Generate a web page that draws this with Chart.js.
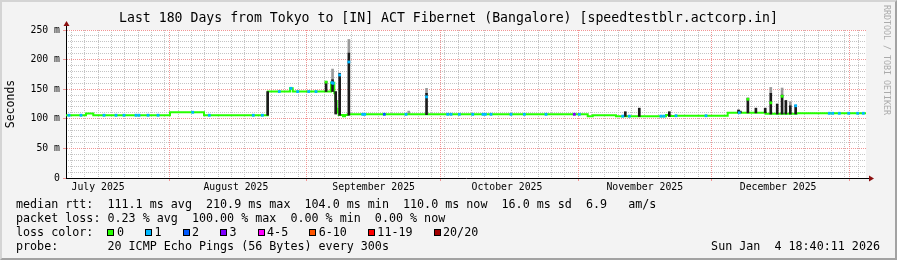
<!DOCTYPE html>
<html>
<head>
<meta charset="utf-8">
<title>Smokeping - Tokyo to Bangalore</title>
<script src="https://cdn.jsdelivr.net/npm/chart.js@4.4.1/dist/chart.umd.min.js"></script>
<style>
    body { margin: 0; background: #f3f3f3; }
    #wrap {
        position: relative; width: 897px; height: 260px; overflow: hidden;
        background: #f3f3f3; color: #000;
        font-family: 'DejaVu Sans Mono', monospace;
    }
    #chart { position: absolute; left: 0; top: 0; }
    .legend-line {
        position: absolute; left: 16px; font-size: 11.7px; line-height: 14px;
        white-space: pre;
    }
    .sq {
        display: inline-block; width: 7px; height: 7px; box-sizing: border-box;
        border: 1px solid #000; margin-right: 2.4px;
    }
    #stamp { position: absolute; right: 17px; top: 239.3px; font-size: 11.7px; line-height: 14px; white-space: pre; }
    #watermark {
        position: absolute; left: 882px; top: 5px; font-size: 8.3px; color: #ababab;
        writing-mode: vertical-rl; white-space: pre;
    }
    #frame {
        position: absolute; left: 0; top: 0; width: 897px; height: 260px; box-sizing: border-box;
        border-top: 2px solid #d4d4d4; border-left: 2px solid #d4d4d4;
        border-right: 2px solid #a2a2a2; border-bottom: 2px solid #a2a2a2;
        pointer-events: none;
    }
</style>
</head>
<body>
<div id="wrap">
    <canvas id="chart" width="897" height="260"></canvas>
    <div class="legend-line" style="top:197.3px">median rtt:  111.1 ms avg  210.9 ms max  104.0 ms min  110.0 ms now  16.0 ms sd  6.9   am/s</div>
    <div class="legend-line" style="top:211.3px">packet loss: 0.23 % avg  100.00 % max  0.00 % min  0.00 % now</div>
    <div class="legend-line" id="loss-legend" style="top:225.3px"></div>
    <div class="legend-line" style="top:239.3px">probe:       20 ICMP Echo Pings (56 Bytes) every 300s</div>
    <div id="stamp">Sun Jan  4 18:40:11 2026</div>
    <div id="watermark">RRDTOOL / TOBI OETIKER</div>
    <div id="frame"></div>
</div>
<script>
// Time axis is in days since 1 July 2025 00:00
const rangeStart = 7.778;   // Jul 8 18:40
const rangeEnd = 187.778;   // Jan 4 18:40
const monthStartDays = [0, 31, 62, 92, 123, 153, 184];
const monthLabels = ['July 2025', 'August 2025', 'September 2025', 'October 2025', 'November 2025', 'December 2025'];

// median rtt in ms, as steps: each value holds from its day until the next one
const rttDay = [7.78, 12.28, 13.92, 31.18, 38.83, 53.2, 58.18, 58.79, 67.40, 68.15, 68.41, 68.68, 68.91, 69.14,
    70.10, 70.55, 71.16, 125.16, 126.29, 131.53, 142.78, 143.52, 145.03, 156.66, 165.28, 172.17, 187.78];
const rttMs = [106, 109, 106, 111, 106, 146, 151.5, 146, 161, 143, 130, 117, 110.5, 106.5,
    104.5, 106.5, 107.6, 104.2, 106, 104.5, 106.4, 104.7, 105.2, 110.3, 108.6, 109.3, 109.3];

// dense smoke (dark) around spikes and jumps
const smokeDay = [53.15, 66.3, 67.75, 68.45, 69.35, 71.42, 88.9, 133.62, 136.77, 143.52, 159.1, 159.5,
    161.2, 163.0, 165.1, 166.35, 167.8, 168.9, 169.75, 170.75, 171.95];
const smokeLo = [106, 146, 146, 108, 106, 106, 107, 104, 104, 104, 110, 110,
    110, 110, 110, 108, 108, 108, 108, 108, 108];
const smokeHi = [146, 163, 166, 146, 177, 211, 143, 112, 118, 112, 115, 113,
    135, 118, 118, 143, 125, 140, 131, 122, 123];

// light smoke above the dense part
const lightDay = [67.75, 71.42, 84.9, 88.9, 166.35, 168.9, 170.75];
const lightLo = [166, 211, 107, 143, 143, 140, 122];
const lightHi = [184, 234, 113, 151.5, 153, 152, 129];

// median samples sitting on top of spikes
const spikeDay = [66.3, 67.6, 67.9, 69.35, 71.42, 88.9, 161.2, 166.35, 168.9, 171.95];
const spikeMs = [162, 161, 160, 174, 196, 137, 133, 127, 138, 122];
const spikeLoss = [0, 1, 1, 1, 1, 1, 0, 0, 0, 1];

// days where the median carried some packet loss
const loss1Days = [8.45, 11.15, 16.33, 19.03, 20.83, 23.53, 24.2, 26.23, 28.48, 36.29, 40.02, 49.92, 51.95,
    55.77, 58.4, 59.91, 62.39, 64.03, 74.54, 74.99, 84.28, 93.66, 94.41, 96.27, 99.29, 101.6, 102.12,
    103.4, 107.9, 110.9, 115.78, 123.27, 133.04, 134.52, 141.65, 142.33, 145.03, 151.78, 159.27,
    179.52, 180.29, 181.77, 183.89, 185.91, 187.17];
const loss2Days = [79.4];
const loss3Days = [122.15];

const lossLabels = ['0', '1', '2', '3', '4-5', '6-10', '11-19', '20/20'];
const lossColors = ['#26ff00', '#00b8ff', '#0059ff', '#7e00ff', '#ff00ff', '#ff5500', '#ff0000', '#a10000'];

const chartTitle = 'Last 180 Days from Tokyo to [IN] ACT Fibernet (Bangalore) [speedtestblr.actcorp.in]';

const minorColor = '#c4c4c4';
const majorColor = '#f29494';
const axisFont = { family: 'DejaVu Sans Mono', size: 9.8 };

function levelAt(day) {
    let v = rttMs[0];
    for (let i = 0; i < rttDay.length; i++) {
        if (rttDay[i] <= day) v = rttMs[i];
    }
    return v;
}

// loss colour legend
const lossLegend = document.getElementById('loss-legend');
lossLegend.textContent = 'loss color:  ';
lossLabels.forEach((label, i) => {
    const sq = document.createElement('span');
    sq.className = 'sq';
    sq.style.background = lossColors[i];
    lossLegend.appendChild(sq);
    lossLegend.appendChild(document.createTextNode(label + (i < lossLabels.length - 1 ? '   ' : '')));
});

const lossDots = [];
const lossDotColors = [];
[[loss1Days, 1], [loss2Days, 2], [loss3Days, 3]].forEach(([days, lvl]) => {
    days.forEach(d => {
        lossDots.push({ x: d, y: levelAt(d) });
        lossDotColors.push(lossColors[lvl]);
    });
});

// white canvas behind the plot, axis arrows like rrdtool
const rrdFrame = {
    id: 'rrdFrame',
    beforeDraw(chart) {
        const { ctx, chartArea: a } = chart;
        ctx.save();
        ctx.fillStyle = '#ffffff';
        ctx.fillRect(a.left, a.top, a.right - a.left, a.bottom - a.top);
        ctx.restore();
    },
    afterDraw(chart) {
        const { ctx, chartArea: a } = chart;
        const ax = Math.round(a.left) + 0.5;
        const ay = Math.round(a.bottom) + 0.5;
        ctx.save();
        ctx.strokeStyle = '#000';
        ctx.lineWidth = 1;
        ctx.beginPath();
        ctx.moveTo(ax, a.top);
        ctx.lineTo(ax, a.top - 4);
        ctx.moveTo(a.right, ay);
        ctx.lineTo(a.right + 3, ay);
        ctx.stroke();
        ctx.fillStyle = '#8b1010';
        ctx.beginPath();
        ctx.moveTo(ax - 3, a.top - 4);
        ctx.lineTo(ax + 3, a.top - 4);
        ctx.lineTo(ax, a.top - 9);
        ctx.closePath();
        ctx.fill();
        ctx.beginPath();
        ctx.moveTo(a.right + 3, ay - 3);
        ctx.lineTo(a.right + 3, ay + 3);
        ctx.lineTo(a.right + 8, ay);
        ctx.closePath();
        ctx.fill();
        ctx.restore();
    }
};

new Chart(document.getElementById('chart'), {
    type: 'bar',
    data: {
        datasets: [
            {
                type: 'line',
                label: 'loss',
                data: lossDots,
                showLine: false,
                pointStyle: 'rect',
                pointRadius: 2,
                pointBorderWidth: 0,
                pointBackgroundColor: lossDotColors,
                order: 0
            },
            {
                type: 'line',
                label: 'spike median',
                data: spikeDay.map((d, i) => ({ x: d, y: spikeMs[i] })),
                showLine: false,
                pointStyle: 'rect',
                pointRadius: 2,
                pointBorderWidth: 0,
                pointBackgroundColor: spikeLoss.map(l => lossColors[l]),
                order: 0
            },
            {
                type: 'bar',
                label: 'smoke',
                data: smokeDay.map((d, i) => ({ x: d, y: [smokeLo[i], smokeHi[i]] })),
                backgroundColor: '#1c1c1c',
                barThickness: 2,
                grouped: false,
                order: 1
            },
            {
                type: 'line',
                label: 'median rtt',
                data: rttDay.map((d, i) => ({ x: d, y: rttMs[i] })),
                stepped: true,
                borderColor: lossColors[0],
                borderWidth: 2,
                pointRadius: 0,
                order: 2
            },
            {
                type: 'bar',
                label: 'smoke light',
                data: lightDay.map((d, i) => ({ x: d, y: [lightLo[i], lightHi[i]] })),
                backgroundColor: '#9a9a9a',
                barThickness: 2,
                grouped: false,
                order: 3
            }
        ]
    },
    options: {
        responsive: false,
        animation: false,
        devicePixelRatio: 1,
        layout: { padding: 0 },
        plugins: {
            legend: { display: false },
            tooltip: { enabled: false },
            title: {
                display: true,
                text: chartTitle,
                color: '#000',
                font: { family: 'DejaVu Sans Mono', size: 13.2, weight: 'normal' },
                padding: { top: 10.5, bottom: 3.66 }
            }
        },
        scales: {
            x: {
                type: 'linear', position: 'bottom', min: rangeStart, max: rangeEnd, offset: false, weight: 2,
                afterBuildTicks: s => { s.ticks = monthStartDays.slice(0, 6).map(d => ({ value: d + 15 })); },
                afterFit: s => { s.height = 82; },
                ticks: {
                    autoSkip: false, maxRotation: 0, padding: 3.4, color: '#000', font: axisFont,
                    callback: (v, i) => monthLabels[i]
                },
                grid: { display: false, drawTicks: false, offset: false },
                border: { display: true, color: '#000', width: 1 }
            },
            xMajor: {
                type: 'linear', position: 'bottom', min: rangeStart, max: rangeEnd, offset: false, weight: 0,
                afterBuildTicks: s => {
                    s.ticks = monthStartDays.filter(d => d > rangeStart && d < rangeEnd).map(d => ({ value: d }));
                },
                afterFit: s => { s.height = 0; },
                ticks: { display: false },
                grid: { color: majorColor, tickColor: majorColor, drawTicks: true, tickLength: 3, z: -1, offset: false },
                border: { display: false, dash: [1, 1] }
            },
            xMinor: {
                type: 'linear', position: 'bottom', min: rangeStart, max: rangeEnd, offset: false, weight: 1,
                afterBuildTicks: s => {
                    const t = [];
                    for (let d = Math.ceil(rangeStart / 3) * 3; d < rangeEnd; d += 3) {
                        if (!monthStartDays.includes(d)) t.push({ value: d });
                    }
                    s.ticks = t;
                },
                afterFit: s => { s.height = 0; },
                ticks: { display: false },
                grid: { color: minorColor, drawTicks: false, z: -2, offset: false },
                border: { display: false, dash: [1, 1] }
            },
            y: {
                position: 'left', min: 0, max: 250, weight: 0,
                afterFit: s => { s.width = 66; },
                ticks: {
                    stepSize: 50, padding: 3, color: '#000', font: axisFont,
                    callback: v => (v === 0 ? '0' : v + ' m')
                },
                grid: { color: majorColor, tickColor: majorColor, drawTicks: true, tickLength: 3, z: -1 },
                border: { display: true, color: '#000', width: 1, dash: [1, 1] },
                title: {
                    display: true, text: 'Seconds', color: '#000',
                    font: { family: 'DejaVu Sans Mono', size: 11.5 }, padding: { top: 4, bottom: 0 }
                }
            },
            yMinor: {
                position: 'left', min: 0, max: 250, weight: 1,
                afterBuildTicks: s => { s.ticks = s.ticks.filter(t => t.value % 50 !== 0); },
                afterFit: s => { s.width = 0; },
                ticks: { display: false, stepSize: 10 },
                grid: { color: minorColor, drawTicks: false, z: -2 },
                border: { display: false, dash: [1, 1] }
            },
            yRight: {
                position: 'right', min: 0, max: 250,
                afterFit: s => { s.width = 31; },
                ticks: { display: false },
                grid: { display: false, drawTicks: false },
                border: { display: false }
            }
        }
    },
    plugins: [rrdFrame]
});
</script>
</body>
</html>
